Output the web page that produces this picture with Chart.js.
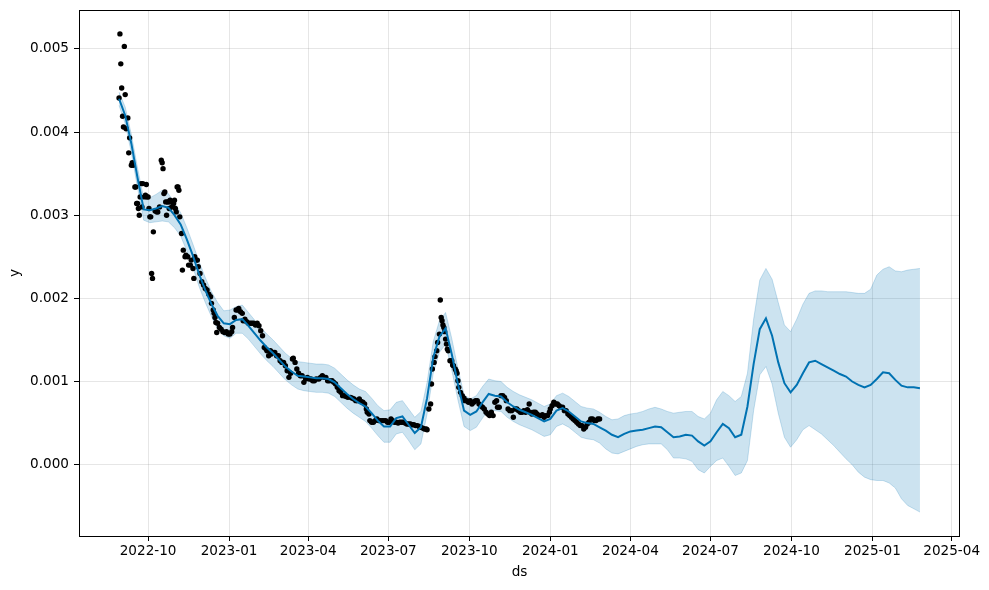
<!DOCTYPE html>
<html><head><meta charset="utf-8">
<script src="https://cdn.jsdelivr.net/npm/chart.js@4.4.1/dist/chart.umd.min.js"></script>
<style>html,body{margin:0;padding:0;background:#fff;}canvas{display:block;}</style>
</head><body>
<canvas id="c" width="989" height="590"></canvas>
<script>
const startDate = '2022-08-29';
const forecastStepDays = 7;

const yhat = [
0.00440,0.00420,0.00386,0.00345,0.00307,0.00306,0.00308,0.00311,0.00309,0.00300,
0.00289,0.00271,0.00251,0.00229,0.00210,0.00193,0.00179,0.00170,0.00169,0.00174,
0.00175,0.00167,0.00158,0.00149,0.00141,0.00134,0.00126,0.00118,0.00112,0.00107,
0.00106,0.00105,0.00104,0.00104,0.00103,0.00099,0.00092,0.00085,0.00079,0.00074,
0.00070,0.00062,0.00053,0.00046,0.00046,0.00056,0.00058,0.00048,0.00038,0.00045,
0.00080,0.00129,0.00154,0.00164,0.00133,0.00097,0.00065,0.00060,0.00064,0.00075,
0.00085,0.00083,0.00082,0.00075,0.00070,0.00066,0.00063,0.00060,0.00056,0.00052,
0.00055,0.00065,0.00068,0.00064,0.00058,0.00052,0.00050,0.00049,0.00045,0.00041,
0.00036,0.00033,0.00037,0.00040,0.00041,0.00042,0.00044,0.00046,0.00045,0.00039,
0.00033,0.00034,0.00036,0.00035,0.00028,0.00023,0.00028,0.00039,0.00049,0.00044,
0.00033,0.00036,0.00070,0.00121,0.00163,0.00176,0.00155,0.00123,0.00098,0.00087,
0.00096,0.00110,0.00123,0.00125,0.00121,0.00117,0.00113,0.00109,0.00106,0.00100,
0.00096,0.00093,0.00096,0.00103,0.00111,0.00110,0.00102,0.00095,0.00093,0.00093,0.00092
];
const yhatUpper = [
0.00448,0.00430,0.00397,0.00357,0.00320,0.00321,0.00325,0.00330,0.00326,0.00315,
0.00303,0.00285,0.00265,0.00244,0.00225,0.00208,0.00195,0.00185,0.00186,0.00190,
0.00192,0.00183,0.00174,0.00165,0.00157,0.00150,0.00142,0.00134,0.00128,0.00124,
0.00123,0.00122,0.00121,0.00121,0.00120,0.00116,0.00109,0.00102,0.00096,0.00091,
0.00088,0.00080,0.00071,0.00065,0.00066,0.00075,0.00077,0.00067,0.00057,0.00064,
0.00099,0.00148,0.00173,0.00183,0.00152,0.00116,0.00084,0.00079,0.00083,0.00094,
0.00103,0.00101,0.00100,0.00093,0.00088,0.00084,0.00081,0.00078,0.00074,0.00070,
0.00073,0.00083,0.00086,0.00082,0.00076,0.00070,0.00068,0.00067,0.00063,0.00058,
0.00054,0.00055,0.00059,0.00061,0.00062,0.00064,0.00067,0.00069,0.00067,0.00064,
0.00062,0.00063,0.00064,0.00064,0.00058,0.00055,0.00062,0.00078,0.00088,0.00083,
0.00076,0.00082,0.00110,0.00175,0.00222,0.00236,0.00223,0.00195,0.00168,0.00160,
0.00175,0.00193,0.00206,0.00209,0.00209,0.00208,0.00208,0.00208,0.00208,0.00207,
0.00206,0.00206,0.00211,0.00228,0.00235,0.00238,0.00233,0.00232,0.00234,0.00235,0.00236
];
const yhatLower = [
0.00432,0.00410,0.00375,0.00333,0.00294,0.00291,0.00292,0.00293,0.00292,0.00285,
0.00275,0.00257,0.00237,0.00214,0.00195,0.00178,0.00163,0.00155,0.00152,0.00158,
0.00158,0.00151,0.00142,0.00133,0.00125,0.00118,0.00110,0.00102,0.00096,0.00091,
0.00089,0.00088,0.00087,0.00087,0.00086,0.00082,0.00075,0.00068,0.00062,0.00057,
0.00052,0.00044,0.00035,0.00027,0.00027,0.00037,0.00039,0.00029,0.00018,0.00025,
0.00061,0.00110,0.00135,0.00145,0.00114,0.00078,0.00046,0.00041,0.00045,0.00056,
0.00066,0.00065,0.00064,0.00057,0.00052,0.00048,0.00045,0.00042,0.00038,0.00034,
0.00036,0.00046,0.00049,0.00045,0.00039,0.00033,0.00031,0.00030,0.00026,0.00019,
0.00014,0.00013,0.00016,0.00019,0.00022,0.00024,0.00025,0.00025,0.00025,0.00018,
0.00008,0.00008,0.00007,0.00004,-0.00006,-0.00010,-0.00002,0.00005,0.00008,-0.00002,
-0.00013,-0.00010,0.00005,0.00065,0.00108,0.00118,0.00097,0.00062,0.00033,0.00021,
0.00030,0.00042,0.00047,0.00042,0.00037,0.00030,0.00023,0.00015,0.00007,0.00000,
-0.00009,-0.00015,-0.00018,-0.00019,-0.00019,-0.00022,-0.00028,-0.00041,-0.00049,-0.00053,-0.00057
];

// observed points: [days since startDate, y]
const observed = [
[0,0.00441],[1,0.00518],[2,0.00482],[3,0.00453],[4,0.00419],[5,0.00406],[6,0.00503],[7,0.00445],[8,0.00404],[10,0.00417],
[11,0.00375],[12,0.00393],[14,0.00360],[15,0.00363],[16,0.00360],[18,0.00334],[19,0.00334],[20,0.00314],[21,0.00314],[22,0.00308],
[23,0.00300],[24,0.00322],[25,0.00338],[26,0.00310],[27,0.00338],[29,0.00322],[30,0.00324],[31,0.00337],[32,0.00322],[33,0.00322],
[34,0.00308],[35,0.00298],[36,0.00298],[37,0.00230],[38,0.00224],[39,0.00280],[41,0.00305],[43,0.00304],[44,0.00304],[46,0.00310],
[48,0.00366],[49,0.00363],[50,0.00356],[51,0.00326],[52,0.00328],[53,0.00316],[54,0.00300],[55,0.00316],[56,0.00316],[57,0.00308],
[58,0.00318],[59,0.00316],[60,0.00310],[61,0.00316],[62,0.00314],[63,0.00318],[64,0.00308],[65,0.00304],[66,0.00334],[67,0.00334],
[68,0.00330],[69,0.00298],[71,0.00278],[72,0.00234],[73,0.00258],[75,0.00250],[76,0.00252],[78,0.00250],[79,0.00240],[81,0.00240],
[82,0.00246],[84,0.00236],[85,0.00224],[86,0.00250],[88,0.00246],[89,0.00246],[90,0.00238],[92,0.00230],[94,0.00220],[96,0.00216],
[98,0.00212],[100,0.00210],[102,0.00205],[104,0.00202],[105,0.00194],[107,0.00186],[108,0.00182],[109,0.00177],[110,0.00171],[111,0.00159],
[112,0.00170],[114,0.00165],[116,0.00163],[118,0.00160],[120,0.00159],[122,0.00160],[124,0.00157],[126,0.00157],[128,0.00160],[129,0.00165],
[131,0.00177],[133,0.00186],[135,0.00186],[136,0.00188],[138,0.00184],[140,0.00182],[141,0.00173],[143,0.00175],[145,0.00172],[147,0.00170],
[149,0.00170],[151,0.00170],[153,0.00170],[155,0.00168],[157,0.00170],[159,0.00167],[161,0.00161],[163,0.00155],[165,0.00141],[167,0.00139],
[168,0.00137],[170,0.00131],[172,0.00137],[173,0.00133],[175,0.00135],[177,0.00135],[179,0.00131],[181,0.00131],[183,0.00125],[185,0.00123],
[187,0.00123],[189,0.00119],[191,0.00113],[193,0.00105],[195,0.00110],[197,0.00127],[198,0.00128],[200,0.00123],[202,0.00115],[204,0.00110],
[206,0.00107],[208,0.00107],[210,0.00099],[212,0.00103],[214,0.00105],[216,0.00103],[218,0.00103],[220,0.00101],[222,0.00101],[224,0.00103],
[227,0.00103],[229,0.00105],[231,0.00107],[233,0.00105],[235,0.00105],[237,0.00101],[239,0.00101],[242,0.00101],[244,0.00099],[246,0.00097],
[248,0.00093],[250,0.00089],[252,0.00087],[254,0.00083],[256,0.00083],[258,0.00082],[260,0.00081],[263,0.00081],[265,0.00080],[267,0.00079],
[269,0.00077],[271,0.00077],[273,0.00079],[275,0.00076],[277,0.00075],[279,0.00073],[281,0.00067],[282,0.00063],[284,0.00061],[285,0.00053],
[287,0.00051],[289,0.00051],[291,0.00053],[293,0.00055],[295,0.00053],[297,0.00053],[299,0.00053],[301,0.00053],[303,0.00053],[305,0.00051],
[307,0.00051],[309,0.00055],[311,0.00053],[313,0.00051],[315,0.00051],[317,0.00050],[319,0.00051],[321,0.00051],[323,0.00051],[325,0.00050],
[327,0.00049],[329,0.00049],[331,0.00049],[333,0.00048],[335,0.00048],[337,0.00047],[339,0.00047],[341,0.00046],[343,0.00045],[345,0.00044],
[347,0.00043],[349,0.00043],[350,0.00042],
[352,0.00067],[354,0.00073],[355,0.00097],[356,0.00115],[358,0.00123],[359,0.00130],[361,0.00137],[362,0.00147],[364,0.00157],[365,0.00198],
[366,0.00177],[367,0.00173],[368,0.00168],[369,0.00165],[370,0.00160],[371,0.00151],[372,0.00145],[373,0.00139],[374,0.00137],[376,0.00125],
[378,0.00125],[379,0.00120],[380,0.00119],[382,0.00115],[383,0.00113],[384,0.00110],[385,0.00101],[386,0.00093],[388,0.00087],[390,0.00083],
[392,0.00080],[393,0.00077],[395,0.00077],[397,0.00075],[399,0.00077],[401,0.00073],[403,0.00075],[405,0.00077],[407,0.00077],[409,0.00073],
[411,0.00071],[413,0.00069],[415,0.00067],[417,0.00063],[419,0.00061],[421,0.00059],[423,0.00063],[425,0.00059],[427,0.00075],[429,0.00077],
[430,0.00069],[432,0.00069],[434,0.00083],[436,0.00083],[438,0.00081],[440,0.00077],[442,0.00067],[444,0.00065],[446,0.00065],[448,0.00057],
[450,0.00067],[452,0.00067],[454,0.00065],[456,0.00063],[458,0.00063],[460,0.00065],[462,0.00063],[464,0.00066],[466,0.00073],[467,0.00063],
[469,0.00061],[471,0.00063],[473,0.00063],[475,0.00061],[477,0.00059],[479,0.00059],[481,0.00060],[483,0.00057],[485,0.00059],[487,0.00059],
[489,0.00063],[490,0.00067],[492,0.00071],[494,0.00075],[496,0.00073],[498,0.00073],[500,0.00071],[502,0.00069],[504,0.00069],[506,0.00065],
[508,0.00065],[510,0.00061],[512,0.00059],[514,0.00057],[516,0.00055],[518,0.00053],[520,0.00051],[522,0.00049],[524,0.00047],[526,0.00047],
[528,0.00043],[530,0.00045],[532,0.00049],[534,0.00051],[536,0.00055],[538,0.00055],[540,0.00053],[542,0.00053],[544,0.00055],[546,0.00055]
];

const xTickLabels = ['2022-10','2023-01','2023-04','2023-07','2023-10','2024-01','2024-04','2024-07','2024-10','2025-01','2025-04'];
const yTickValues = [0.000,0.001,0.002,0.003,0.004,0.005];

const DAY = 86400000;
const t0 = Date.parse(startDate + 'T00:00:00Z');
const xTickDays = xTickLabels.map(s => (Date.parse(s + '-01T00:00:00Z') - t0) / DAY);

const fcstLine = yhat.map((v, i) => ({x: i * forecastStepDays, y: v}));
const fcstUp = yhatUpper.map((v, i) => ({x: i * forecastStepDays, y: v}));
const fcstLo = yhatLower.map((v, i) => ({x: i * forecastStepDays, y: v}));
const obsPts = observed.map(p => ({x: p[0], y: p[1]}));

// matplotlib-like 5% margins
const xDataMax = (yhat.length - 1) * forecastStepDays;
const xMargin = 0.05 * xDataMax;
const allY = yhatLower.concat(yhatUpper, observed.map(p => p[1]));
const yDMin = Math.min(...allY), yDMax = Math.max(...allY);
const yMargin = 0.05 * (yDMax - yDMin);

const FONT = {family: 'DejaVu Sans', size: 13.6};
const bandColor = 'rgba(0,114,178,0.2)';

const framePlugin = {
  id: 'frame',
  beforeDraw(chart) {
    const c = chart.ctx; c.save(); c.fillStyle = '#fff'; c.fillRect(0, 0, chart.width, chart.height); c.restore();
  },
  afterDraw(chart) {
    const c = chart.ctx, a = chart.chartArea;
    c.save(); c.strokeStyle = '#000'; c.lineWidth = 1;
    c.strokeRect(a.left + 0.5, a.top + 0.5, a.right - a.left - 1, a.bottom - a.top);
    c.restore();
  }
};

new Chart(document.getElementById('c'), {
  type: 'line',
  data: {
    datasets: [
      {label: 'yhat', data: fcstLine, borderColor: '#0072B2', borderWidth: 2, pointRadius: 0, fill: false, order: 0, tension: 0},
      {label: 'y', data: obsPts, showLine: false, pointRadius: 2.7, pointBackgroundColor: '#000', pointBorderWidth: 0, borderColor: '#000', order: 1},
      {label: 'upper', data: fcstUp, borderColor: bandColor, borderWidth: 1, pointRadius: 0, fill: 3, backgroundColor: bandColor, order: 2},
      {label: 'lower', data: fcstLo, borderColor: bandColor, borderWidth: 1, pointRadius: 0, fill: false, order: 3}
    ]
  },
  options: {
    responsive: false,
    animation: false,
    events: [],
    layout: {padding: {left: 0, top: 10, right: 29, bottom: 0}},
    plugins: {legend: {display: false}, tooltip: {enabled: false}},
    scales: {
      x: {
        type: 'linear',
        min: -xMargin, max: xDataMax + xMargin,
        afterBuildTicks: s => { s.ticks = xTickDays.map(v => ({value: v})); },
        afterFit: s => { s.height = 54; s.paddingLeft = 0; s.paddingRight = 0; s.paddingTop = 0; s.paddingBottom = 0; },
        ticks: {callback: (v, i) => xTickLabels[i], font: FONT, color: '#000', padding: 2, maxRotation: 0, minRotation: 0, autoSkip: false},
        grid: {color: 'rgba(128,128,128,0.2)', lineWidth: 1, tickColor: '#000', tickLength: 5, tickWidth: 1},
        border: {display: false},
        title: {display: true, text: 'ds', font: FONT, color: '#000', padding: {top: 0, bottom: 9}}
      },
      y: {
        type: 'linear',
        min: yDMin - yMargin, max: yDMax + yMargin,
        afterBuildTicks: s => { s.ticks = yTickValues.map(v => ({value: v})); },
        afterFit: s => { s.width = 79; s.paddingTop = 0; s.paddingBottom = 0; s.paddingLeft = 0; s.paddingRight = 0; },
        ticks: {callback: v => v.toFixed(3), font: FONT, color: '#000', padding: 5},
        grid: {color: 'rgba(128,128,128,0.2)', lineWidth: 1, tickColor: '#000', tickLength: 5, tickWidth: 1},
        border: {display: false},
        title: {display: true, text: 'y', font: FONT, color: '#000', padding: {top: 7, bottom: 0}}
      }
    }
  },
  plugins: [framePlugin]
});
</script>
</body></html>
